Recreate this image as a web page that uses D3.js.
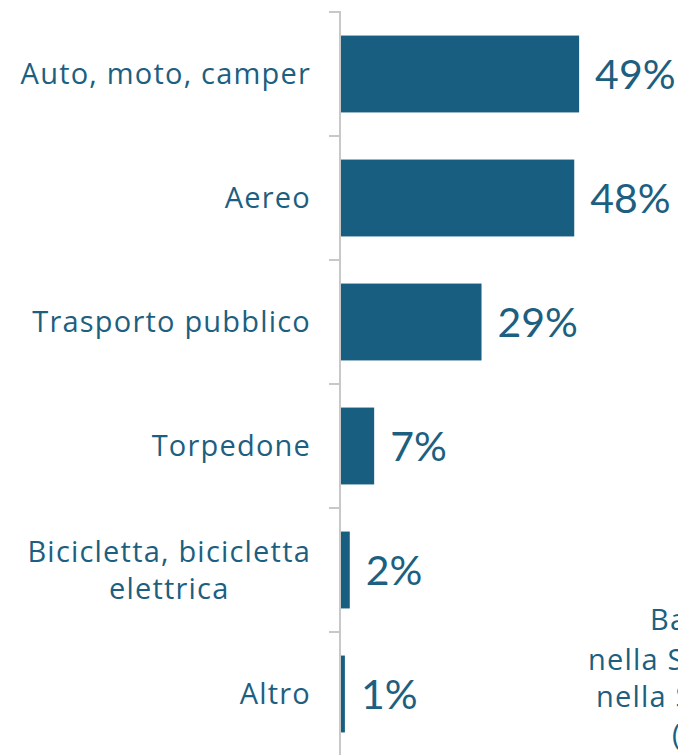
<!DOCTYPE html>
<html><head><meta charset="utf-8">
<script src="https://cdn.jsdelivr.net/npm/d3@7"></script>
<style>html,body{margin:0;padding:0;background:#fff;overflow:hidden}</style>
</head><body>
<svg id="c" width="678" height="755"></svg>
<script>
const categories = [["Auto, moto, camper"],["Aereo"],["Trasporto pubblico"],["Torpedone"],["Bicicletta, bicicletta","elettrica"],["Altro"]];
const values = [49,48,29,7,2,1];
const valueLabels = ["49%","48%","29%","7%","2%","1%"];
const noteLines = ["Base: persone","nella Svizzera","nella Svizzera","(…)"];

const svg = d3.select("#c");
const color = "#175e80";
const textColor = "#1d5f80";
const font = "'Open Sans', sans-serif";
const valFont = "Lato, sans-serif";

const y = d3.scaleBand().domain(d3.range(categories.length)).range([12,756]).paddingInner(0.38).paddingOuter(0.19);
const x = d3.scaleLinear().domain([0,100]).range([340,828]);

// axis
const axisG = svg.append("g").attr("transform","translate(340,0)");
axisG.append("line").attr("x1",0).attr("x2",0).attr("y1",11).attr("y2",756).attr("stroke","#c8c8c8").attr("stroke-width",2);
const boundaries = d3.range(categories.length).map(i => y(i) - y.step()*y.paddingInner()/2);
axisG.selectAll("line.tick").data(boundaries).enter().append("line")
  .attr("class","tick").attr("x1",-11).attr("x2",0).attr("y1",d=>d).attr("y2",d=>d)
  .attr("stroke","#c8c8c8").attr("stroke-width",2);

// bars
svg.selectAll("rect.bar").data(values).enter().append("rect")
  .attr("class","bar").attr("x",x(0)+1).attr("y",(d,i)=>y(i))
  .attr("width",d=>x(d)-x(0)-1).attr("height",y.bandwidth()).attr("fill",color);

// category labels (multi-line blocks: lines centred within a right-aligned block)
const lab = svg.selectAll("text.cat").data(categories).enter().append("text")
  .attr("class","cat").attr("text-anchor","end").attr("font-family",font).attr("font-size",29).attr("letter-spacing",1.2).attr("fill",textColor)
  .attr("transform",(d,i)=>`translate(311,${y(i)+y.bandwidth()/2})`);
lab.each(function(d){
  const t = d3.select(this);
  const n = d.length, lh = 37;
  const spans = d.map((s,k)=> t.append("tspan").attr("x",0).attr("y",(k-(n-1)/2)*lh).attr("dy","0.35em").text(s));
  if (n > 1) {
    const widths = spans.map(sp => sp.node().getComputedTextLength());
    const maxW = d3.max(widths);
    t.attr("text-anchor","middle");
    spans.forEach(sp => sp.attr("x", -maxW/2));
  }
});

// value labels
svg.selectAll("text.val").data(values).enter().append("text")
  .attr("class","val").attr("x",d=>x(d)+16).attr("y",(d,i)=>y(i)+y.bandwidth()/2).attr("dy","0.36em")
  .attr("font-family",valFont).attr("font-size",41).attr("fill",textColor).text((d,i)=>valueLabels[i]);

// note (clipped at right edge)
const noteX = [650,588,596,672];
const noteY = [620,660,697,735];
svg.selectAll("text.note").data(noteLines).enter().append("text")
  .attr("class","note").attr("x",(d,i)=>noteX[i]).attr("y",(d,i)=>noteY[i]).attr("dy","0.35em")
  .attr("font-family",font).attr("font-size",29).attr("letter-spacing",1.2).attr("fill",textColor).text(d=>d);
</script>
</body></html>
